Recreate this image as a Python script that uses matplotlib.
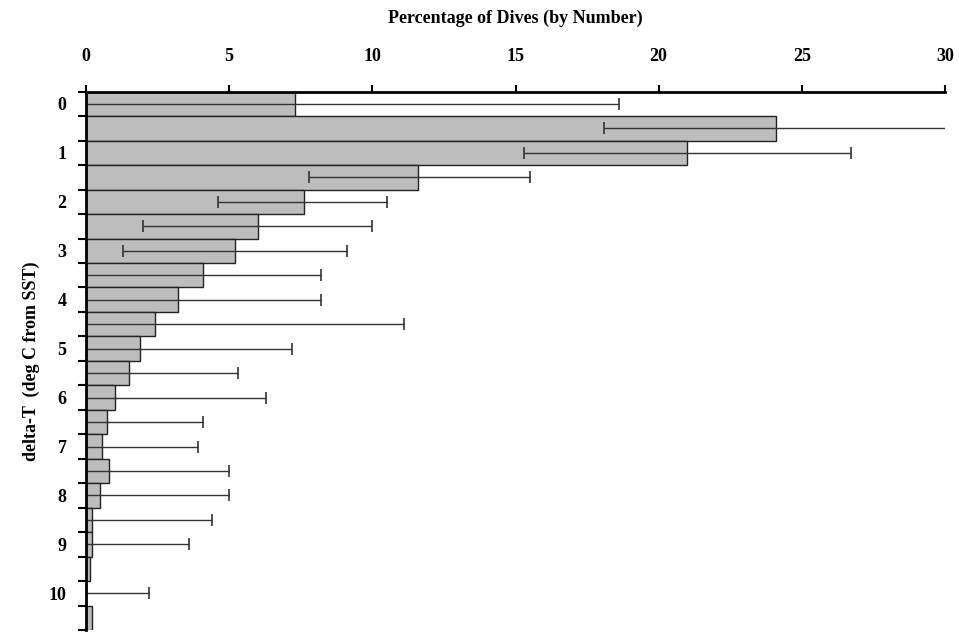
import matplotlib
matplotlib.use("Agg")
import matplotlib.pyplot as plt
import numpy as np

values = [7.3, 24.1, 21.0, 11.6, 7.6, 6.0, 5.2, 4.1, 3.2, 2.4, 1.9, 1.5,
          1.0, 0.75, 0.55, 0.8, 0.5, 0.2, 0.2, 0.15, 0.0, 0.2]
err_low = [0.0, 18.1, 15.3, 7.8, 4.6, 2.0, 1.3, 0, 0, 0, 0, 0,
           0, 0, 0, 0, 0, 0, 0, 0, 0, 0]
err_high = [18.6, 30.1, 26.7, 15.5, 10.5, 10.0, 9.1, 8.2, 8.2, 11.1, 7.2, 5.3,
            6.3, 4.1, 3.9, 5.0, 5.0, 4.4, 3.6, None, 2.2, None]
ylabels = [str(i) for i in range(11)]

plt.rcParams["font.family"] = ["Liberation Serif", "DejaVu Serif"]
fig = plt.figure(figsize=(9.59, 6.41), dpi=100)
ax = fig.add_axes([0.0897, 0.017, 0.8957, 0.84])

pos = np.arange(len(values))
ax.barh(pos, values, height=1.0, color="#bdbdbd", edgecolor="#222222", lw=1.0)
for p, v, lo, hi in zip(pos, values, err_low, err_high):
    if hi is None:
        continue
    ax.errorbar(v, p, xerr=[[v - lo if lo else v], [hi - v]], fmt="none",
                ecolor="#333333", elinewidth=1.0, capsize=4, capthick=1.2)

ax.set_xlim(0, 30)
ax.set_ylim(21.5, -0.5)
ax.xaxis.tick_top()
ax.xaxis.set_label_position("top")
ax.set_xticks([0, 5, 10, 15, 20, 25, 30])
ax.tick_params(axis="x", labelsize=13, width=1.5, length=5, direction="out", pad=14)
for t in ax.get_xticklabels():
    t.set_fontweight("bold")
ax.set_xlabel("Percentage of Dives (by Number)", fontsize=13, fontweight="bold", labelpad=18)

ax.set_yticks(np.arange(-0.5, 22, 1.0))
ax.set_yticklabels([])
ax.set_yticks(np.arange(0, 22, 2), minor=True)
ax.set_yticklabels(ylabels, minor=True, fontsize=13, fontweight="bold")
ax.tick_params(axis="y", which="major", width=1.5, length=6)
ax.tick_params(axis="y", which="minor", length=0, pad=14)
ax.set_ylabel("delta-T  (deg C from SST)", fontsize=13, fontweight="bold", labelpad=6)

ax.spines["right"].set_visible(False)
ax.spines["bottom"].set_visible(False)
ax.spines["left"].set_linewidth(2)
ax.spines["top"].set_linewidth(2)

fig.savefig("out.png", dpi=100)
